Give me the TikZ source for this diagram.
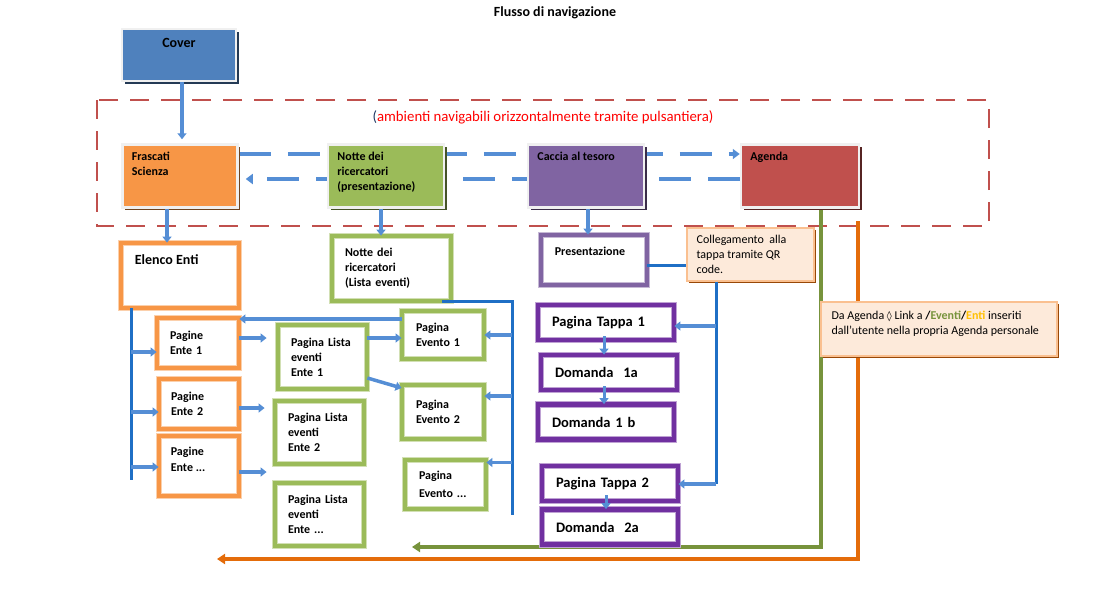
\documentclass[tikz,border=0pt]{standalone}
\usepackage{fontspec}
\setmainfont{Carlito}
\newfontfamily\lozfont{DejaVu Sans}
\usetikzlibrary{positioning,arrows.meta,shadows,backgrounds}

\definecolor{coverblue}{HTML}{4F81BD}
\definecolor{fsorange}{HTML}{F79646}
\definecolor{ntgreen}{HTML}{9BBB59}
\definecolor{ccpurple}{HTML}{8064A2}
\definecolor{agred}{HTML}{C0504D}
\definecolor{tpurple}{HTML}{7030A0}
\definecolor{arrowblue}{HTML}{558ED5}
\definecolor{busblue}{HTML}{1F6FC5}
\definecolor{linkgreen}{HTML}{77933C}
\definecolor{linkorange}{HTML}{E46C0A}
\definecolor{enticol}{HTML}{FFC000}
\definecolor{notefill}{HTML}{FDEADA}
\definecolor{noteborder}{HTML}{FAC090}
\definecolor{noteshadow}{HTML}{984807}
\definecolor{parennavy}{HTML}{1F3864}

\begin{document}
\begin{tikzpicture}[x=1pt,y=-1pt]

  \tikzset{
    topbox/.style={rectangle,fill=#1,draw=black!6,line width=2.5pt,inner sep=0pt,
      drop shadow={shadow xshift=2.5pt,shadow yshift=-2.5pt,opacity=1,fill=#1!45!black}},
    framebox/.style={rectangle,fill=white,draw=#1!45,line width=0.8pt,double=#1,
      double distance=4.5pt,inner sep=0pt,align=left,font=\bfseries\fontsize{12}{15}\selectfont},
    tappabox/.style={framebox=tpurple,font=\bfseries\fontsize{14.5}{17}\selectfont,
      minimum width=136pt,minimum height=35pt,text width=108pt},
    notebox/.style={rectangle,fill=notefill,draw=noteborder,line width=1.2pt,
      drop shadow={shadow xshift=2pt,shadow yshift=-2pt,opacity=1,fill=noteshadow}},
    boxtxt/.style={inner sep=0pt,align=left,font=\bfseries\fontsize{12}{15.3}\selectfont},
    notetxt/.style={inner sep=0pt,align=left,font=\fontsize{12}{15}\selectfont},
    arr/.style={arrowblue,line width=3.5pt,-{Triangle[length=6pt,width=9pt]}},
    bus/.style={busblue,line width=3pt},
    navline/.style={arrowblue,line width=3.5pt,dash pattern=on 32pt off 17pt,
      -{Triangle[length=7pt,width=10pt]}},
    agline/.style={line width=4pt,-{Triangle[length=8pt,width=10pt]}},
    zone/.style={agred,line width=2.5pt,dash pattern=on 19pt off 12pt}
  }

  \useasboundingbox (0,0) rectangle (1107,592);

  \node[font=\bfseries\fontsize{14}{16}\selectfont] (title) at (555,13) {Flusso di navigazione};

  % top row
  \node[topbox=coverblue,minimum width=114pt,minimum height=52pt] (cover) at (179,55) {};
  \node[boxtxt,font=\bfseries\fontsize{14}{16}\selectfont,below=10pt of cover.north] (covertxt) {Cover};

  \node[topbox=fsorange,minimum width=115pt,minimum height=63pt] (frascati) at (180,176) {};
  \node[boxtxt,below right=8.5pt and 10.5pt of frascati.north west] (frascatitxt) {Frascati\\Scienza};
  \node[topbox=ntgreen,minimum width=116pt,minimum height=63pt] (notte) at (386,176) {};
  \node[boxtxt,below right=8.5pt and 10.5pt of notte.north west] (nottetxt) {Notte dei\\ricercatori\\(presentazione)};
  \node[topbox=ccpurple,minimum width=116pt,minimum height=63pt] (caccia) at (586,176) {};
  \node[boxtxt,below right=8.5pt and 10.5pt of caccia.north west] (cacciatxt) {Caccia al tesoro};
  \node[topbox=agred,minimum width=118pt,minimum height=63pt] (agenda) at (800,176) {};
  \node[boxtxt,below right=8.5pt and 10.5pt of agenda.north west] (agendatxt) {Agenda};

  \node[text=red,font=\fontsize{14.8}{17}\selectfont] (zonetxt) at (543,117) {\textcolor{parennavy}{(}ambienti navigabili orizzontalmente tramite pulsantiera)};

  % enti
  \node[framebox=fsorange,minimum width=118pt,minimum height=65pt] (elenco) at (180,275.5) {};
  \node[boxtxt,font=\bfseries\fontsize{14}{16}\selectfont,below right=12pt and 14pt of elenco.north west] (elencotxt) {Elenco Enti};
  \node[framebox=fsorange,minimum width=82pt,minimum height=50pt,text width=56pt] (pente1) at (198,343) {Pagine\\Ente 1};
  \node[framebox=fsorange,minimum width=80pt,minimum height=50pt,text width=56pt] (pente2) at (199,404) {Pagine\\Ente 2};
  \node[framebox=fsorange,minimum width=80pt,minimum height=60pt] (pente3) at (199,466) {};
  \node[boxtxt,font=\bfseries\fontsize{12}{16.5}\selectfont,below right=11pt and 12pt of pente3.north west] (pente3txt) {Pagine\\Ente ...};

  \node[framebox=ntgreen,minimum width=89pt,minimum height=64pt,text width=63pt] (lista1) at (322.5,357) {Pagina Lista\\eventi\\Ente 1};
  \node[framebox=ntgreen,minimum width=89pt,minimum height=63pt,text width=63pt] (lista2) at (319.5,432.5) {Pagina Lista\\eventi\\Ente 2};
  \node[framebox=ntgreen,minimum width=89pt,minimum height=63pt,text width=63pt] (lista3) at (319.5,514.5) {Pagina Lista\\eventi\\Ente ...};

  % eventi
  \node[framebox=ntgreen,minimum width=119pt,minimum height=65pt,text width=93pt] (nlista) at (391.5,268.5) {Notte dei\\ricercatori\\(Lista eventi)};
  \node[framebox=ntgreen,minimum width=82pt,minimum height=48pt,text width=54pt] (evento1) at (443,335) {Pagina\\Evento 1};
  \node[framebox=ntgreen,minimum width=82pt,minimum height=54pt,text width=54pt] (evento2) at (443,412) {Pagina\\Evento 2};
  \node[framebox=ntgreen,minimum width=81pt,minimum height=49pt,text width=53pt,font=\bfseries\fontsize{12}{17.5}\selectfont] (evento3) at (445.5,484.5) {Pagina\\Evento ...};

  % caccia al tesoro
  \node[framebox=ccpurple,minimum width=106pt,minimum height=50pt] (present) at (594,260) {};
  \node[boxtxt,below right=12pt and 14pt of present.north west] (presenttxt) {Presentazione};
  \node[tappabox] (tappa1) at (606,322.5) {Pagina Tappa 1};
  \node[tappabox] (dom1a) at (609,372.5) {Domanda\ \ 1a};
  \node[tappabox] (dom1b) at (606,422) {Domanda 1 b};
  \node[tappabox] (tappa2) at (610,483.5) {Pagina Tappa 2};
  \node[tappabox] (dom2a) at (610,527) {Domanda\ \ 2a};

  % notes
  \node[notebox,minimum width=127pt,minimum height=53pt] (colleg) at (750.5,254.5) {};
  \node[notetxt,below right=8pt and 10pt of colleg.north west] (collegtxt) {Collegamento\ \ alla\\tappa tramite QR\\code.};
  \node[notebox,minimum width=236pt,minimum height=54pt] (daagenda) at (939,329) {};
  \node[notetxt,below right=9pt and 11pt of daagenda.north west] (daagendatxt) {Da Agenda {\lozfont\fontsize{10}{12}\selectfont ◊} Link a \textbf{/\textcolor{linkgreen}{Eventi}/\textcolor{enticol}{Enti}} inseriti\\dall’utente nella propria Agenda personale};

  \coordinate (busL) at (131,480);
  \coordinate (busM) at (512,515);
  \coordinate (busR) at (716,484);
  \coordinate (greenEnd) at (412,547);
  \coordinate (orangeStart) at (858,221);
  \coordinate (orangeEnd) at (217,559);

  \begin{scope}[on background layer]
    \draw[zone] (97,100) rectangle (989,226);
    \draw[navline] ([yshift=22pt]frascati.east) -- ([yshift=22pt]frascati.east -| agenda.west);
    \draw[navline,shorten >=7pt] ([yshift=-3pt]agenda.west) -- ([yshift=-3pt]agenda.west -| frascati.east);
    \draw[agline,linkgreen] ([xshift=21pt]agenda.south) |- (greenEnd);
    \draw[agline,linkorange] (orangeStart) |- (orangeEnd);
  \end{scope}

  \draw[arr,shorten >=4pt] ([xshift=3pt]cover.south) -- ([xshift=3pt]cover.south |- frascati.north);
  \draw[arr] ([xshift=-13pt]frascati.south) -- ([xshift=-13pt]frascati.south |- elenco.north);
  \draw[arr] ([xshift=-5pt]notte.south) -- ([xshift=-5pt]notte.south |- nlista.north);
  \draw[arr] ([xshift=2pt]caccia.south) -- ([xshift=2pt]caccia.south |- present.north);

  \draw[bus] (elenco.south -| busL) -- (busL);
  \draw[arr] ([yshift=-9pt]pente1.west -| busL) -- ([yshift=-9pt]pente1.west);
  \draw[arr] ([yshift=-8pt]pente2.west -| busL) -- ([yshift=-8pt]pente2.west);
  \draw[arr] ([yshift=-1pt]pente3.west -| busL) -- ([yshift=-1pt]pente3.west);
  \draw[arr,shorten >=11pt] ([yshift=5pt]pente1.east) -- ([yshift=5pt]pente1.east -| lista1.west);
  \draw[arr,shorten >=10pt] ([yshift=-4pt]pente2.east) -- ([yshift=-4pt]pente2.east -| lista2.west);
  \draw[arr,shorten >=8pt] ([yshift=-6pt]pente3.east) -- ([yshift=-6pt]pente3.east -| lista3.west);
  \draw[arr] ([yshift=19pt]lista1.east) -- ([yshift=19pt]lista1.east -| evento1.west);
  \draw[arr] ([yshift=-21pt]lista1.east) -- ([yshift=24pt]evento2.west);
  \draw[arr] ([yshift=16pt]evento1.west) -- ([yshift=16pt]evento1.west -| pente1.east);

  \draw[bus] ([xshift=-9pt]nlista.south east) -| (busM);
  \draw[arr] (evento1.east -| busM) -- (evento1.east);
  \draw[arr] ([yshift=16pt]evento2.east -| busM) -- ([yshift=16pt]evento2.east);
  \draw[arr] ([yshift=22pt]evento3.east -| busM) -- ([yshift=22pt]evento3.east);

  \draw[bus] ([yshift=-5pt]present.east) -- ([yshift=-5pt]present.east -| colleg.west);
  \draw[bus] (colleg.south -| busR) -- (busR);
  \draw[arr] ([yshift=-3.5pt]tappa1.east -| busR) -- ([yshift=-3.5pt]tappa1.east);
  \draw[arr] (busR) -- (busR -| tappa2.east);
  \draw[arr,line width=3pt] ([xshift=-2pt,yshift=4pt]tappa1.south) -- ([xshift=-2pt]tappa1.south |- dom1a.north);
  \draw[arr,line width=3pt] ([xshift=-5pt,yshift=4pt]dom1a.south) -- ([xshift=-5pt]dom1a.south |- dom1b.north);
  \draw[arr,line width=3pt] ([xshift=-4pt,yshift=6pt]tappa2.south) -- ([xshift=-4pt]tappa2.south |- dom2a.north);

\end{tikzpicture}
\end{document}
